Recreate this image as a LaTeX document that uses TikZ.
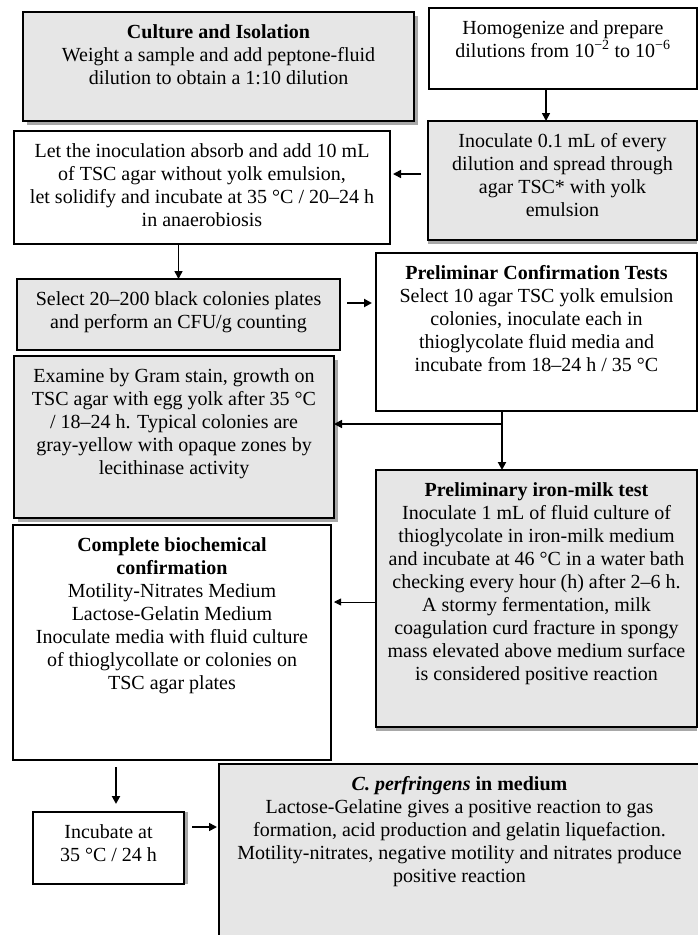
\documentclass[tikz,border=0pt]{standalone}
\usepackage{fontspec}
\setmainfont{Liberation Serif}
\usetikzlibrary{arrows.meta,shadows}
\definecolor{boxgray}{HTML}{E6E6E6}
\definecolor{shadegray}{HTML}{A8A8A8}
\begin{document}
\begin{tikzpicture}[x=1pt, y=-1pt,
    >={Triangle[length=8pt, width=8pt]},
    box/.style={draw, fill=white, line width=1.5pt, anchor=north west, inner sep=0pt, outer sep=0pt},
    gbox/.style={box, fill=boxgray},
    txt/.style={anchor=north, yshift=-12pt, align=center, inner sep=0pt, font=\fontsize{20pt}{23pt}\selectfont},
    shade r/.style={general shadow={fill=shadegray, shadow xshift=4pt}},
    shade b/.style={general shadow={fill=shadegray, shadow yshift=-4pt}},
    shade rb/.style={general shadow={fill=shadegray, shadow xshift=4pt, shadow yshift=-4pt}},
    arr/.style={->, line width=1.6pt},
    thin arr/.style={-{Triangle[length=7pt, width=7pt]}, line width=0.8pt}]
    \useasboundingbox (0,0) rectangle (698,935);
    % 上段
    \node[gbox, shade rb, minimum width=391, minimum height=109,
        label={[txt]north:{\textbf{Culture and Isolation}\\Weight a sample and add peptone-fluid\\dilution to obtain a 1:10 dilution}}] (culture) at (23,12) {};
    \node[box, minimum width=268, minimum height=81,
        label={[txt]north:{Homogenize and prepare\\dilutions from 10\textsuperscript{−2} to 10\textsuperscript{−6}}}] (homog) at (429,8) {};
    \node[gbox, shade b, minimum width=269, minimum height=119,
        label={[txt]north:{Inoculate 0.1 mL of every\\dilution and spread through\\agar TSC* with yolk\\emulsion}}] (spread) at (428,121) {};
    \node[box, minimum width=376, minimum height=113,
        label={[txt]north:{Let the inoculation absorb and add 10 mL\\of TSC agar without yolk emulsion,\\let solidify and incubate at 35 °C / 20–24 h\\in anaerobiosis}}] (absorb) at (14,131) {};
    % 中段
    \node[gbox, minimum width=323, minimum height=71,
        label={[txt]north:{Select 20–200 black colonies plates\\and perform an CFU/g counting}}] (select) at (17,279) {};
    \node[box, minimum width=321, minimum height=158,
        label={[txt]north:{\textbf{Preliminar Confirmation Tests}\\Select 10 agar TSC yolk emulsion\\colonies, inoculate each in\\thioglycolate fluid media and\\incubate from 18–24 h / 35 °C}}] (prelim) at (376,253) {};
    \node[gbox, shade rb, minimum width=320, minimum height=162,
        label={[txt]north:{Examine by Gram stain, growth on\\TSC agar with egg yolk after 35 °C\\/ 18–24 h. Typical colonies are\\gray-yellow with opaque zones by\\lecithinase activity}}] (gram) at (14,356) {};
    \node[gbox, shade b, minimum width=321, minimum height=257,
        label={[txt]north:{\textbf{Preliminary iron-milk test}\\Inoculate 1 mL of fluid culture of\\thioglycolate in iron-milk medium\\and incubate at 46 °C in a water bath\\checking every hour (h) after 2–6 h.\\A stormy fermentation, milk\\coagulation curd fracture in spongy\\mass elevated above medium surface\\is considered positive reaction}}] (ironmilk) at (376,470) {};
    % 下段
    \node[box, minimum width=318, minimum height=235,
        label={[txt]north:{\textbf{Complete biochemical}\\\textbf{confirmation}\\Motility-Nitrates Medium\\Lactose-Gelatin Medium\\Inoculate media with fluid culture\\of thioglycollate or colonies on\\TSC agar plates}}] (biochem) at (13,525) {};
    \node[box, shade r, minimum width=151, minimum height=72,
        label={[txt]north:{Incubate at\\35 °C / 24 h}}] (incub) at (33,812) {};
    \node[gbox, minimum width=481, minimum height=180,
        label={[txt]north:{\textbf{\textit{C. perfringens} in medium}\\Lactose-Gelatine gives a positive reaction to gas\\formation, acid production and gelatin liquefaction.\\Motility-nitrates, negative motility and nitrates produce\\positive reaction}}] (perfr) at (219,764) {};
    % 矢印
    \coordinate (homog out) at ([xshift=-17pt]homog.south);
    \draw[arr] (homog out) -- (homog out |- spread.north);
    \coordinate (spread out) at ([yshift=6.5pt]spread.west);
    \draw[arr, shorten <=7pt, shorten >=3pt] (spread out) -- (spread out -| absorb.east);
    \draw[arr] (absorb.south -| select.north) -- (select.north);
    \coordinate (select out) at ([yshift=11.5pt]select.east);
    \draw[arr, line width=2.2pt, shorten <=7pt, shorten >=4pt] (select out) -- (select out -| prelim.west);
    \coordinate (prelim out) at ([xshift=-34.5pt]prelim.south);
    \draw[arr, line width=2.2pt] (prelim out) -- (prelim out |- ironmilk.north);
    \coordinate (split) at ([yshift=-13pt]prelim out);
    \draw[arr] (split) -- (split -| gram.east);
    \coordinate (iron out) at ([yshift=-3.5pt]ironmilk.west);
    \draw[thin arr, shorten >=3pt] (iron out) -- (iron out -| biochem.east);
    \coordinate (incub in) at ([xshift=7.5pt]incub.north);
    \draw[arr, line width=2pt, shorten <=7pt, shorten >=8pt] (incub in |- biochem.south) -- (incub in);
    \coordinate (incub out) at ([yshift=21pt]incub.east);
    \draw[arr, shorten <=8pt, shorten >=2pt] (incub out) -- (incub out -| perfr.west);
\end{tikzpicture}
\end{document}
